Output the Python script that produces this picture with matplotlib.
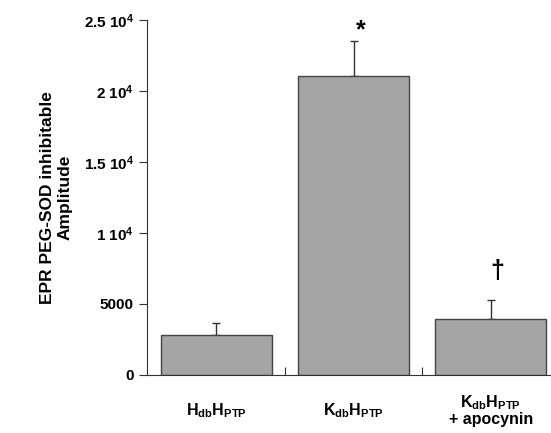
import matplotlib
matplotlib.use('Agg')
import matplotlib.pyplot as plt

plt.rcParams['font.family'] = ['Liberation Sans', 'DejaVu Sans']
plt.rcParams['font.weight'] = 'bold'
plt.rcParams['mathtext.fontset'] = 'custom'
plt.rcParams['mathtext.rm'] = 'Liberation Sans:bold'
plt.rcParams['mathtext.it'] = 'Liberation Sans:bold'
plt.rcParams['mathtext.bf'] = 'Liberation Sans:bold'
plt.rcParams['mathtext.default'] = 'rm'

# datos
grupos = ['H$_{db}$H$_{PTP}$', 'K$_{db}$H$_{PTP}$', 'K$_{db}$H$_{PTP}$\n+ apocynin']
valores = [2800, 21050, 3950]
errores = [850, 2450, 1350]
marcas = ['', '*', '\u2020']
marca_y = [0, 24300, 7300]
yticks = [0, 5000, 10000, 15000, 20000, 25000]
ytick_labels = ['0', '5000', '1 10$^{4}$', '1.5 10$^{4}$', '2 10$^{4}$', '2.5 10$^{4}$']

fig = plt.figure(figsize=(5.51, 4.33), dpi=100)
ax = fig.add_axes([0.267, 0.134, 0.731, 0.82])

pos = range(len(valores))
ax.bar(pos, valores, width=0.81, color='#a5a5a5', edgecolor='#444444', linewidth=1.0, zorder=2)
ax.errorbar(pos, valores, yerr=[[0] * len(errores), errores], fmt='none',
            ecolor='#333333', elinewidth=1.0, capsize=3, capthick=1.0, zorder=1)

for p, m, y in zip(pos, marcas, marca_y):
    if m:
        ax.text(p + 0.05, y, m, ha='center', va='center', fontsize=18, fontweight='bold')

ax.set_xlim(-0.505, 2.43)
ax.set_ylim(0, 25000)
ax.set_yticks(yticks)
ax.set_yticklabels(ytick_labels, fontsize=11, fontweight='bold')
ax.set_xticks([0.5, 1.5])
ax.set_xticklabels(['', ''])
ax.tick_params(axis='x', direction='in', length=6, color='#333333')
ax.tick_params(axis='y', direction='out', length=6, color='#333333')

ax.spines['top'].set_visible(False)
ax.spines['right'].set_visible(False)
ax.spines['left'].set_color('#333333')
ax.spines['bottom'].set_color('#333333')

for p, g in zip(pos, grupos):
    ax.text(p, -2500, g, ha='center', va='center', fontsize=11.5, fontweight='bold',
            linespacing=1.0)

ax.set_ylabel('EPR PEG-SOD inhibitable\nAmplitude', fontsize=12.5, fontweight='bold', labelpad=8)

fig.savefig('out.png', dpi=100)
